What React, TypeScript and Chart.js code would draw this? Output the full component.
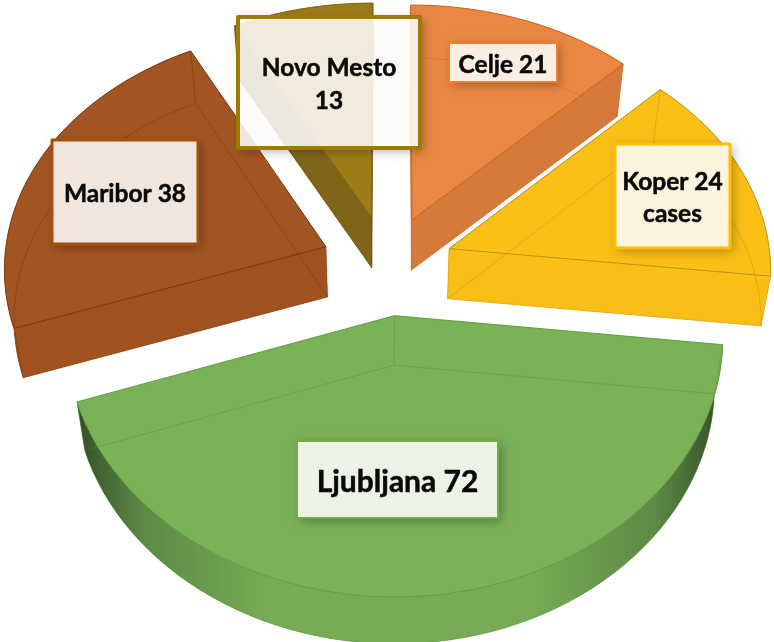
import React, { useEffect, useRef } from "react";
import { Chart, registerables } from "chart.js";

Chart.register(...registerables);

const categories = ["Ljubljana", "Maribor", "Novo Mesto", "Celje", "Koper"];
const cases = [72, 38, 13, 21, 24];
const labelLines = [["Ljubljana 72"], ["Maribor 38"], ["Novo Mesto", "13"], ["Celje 21"], ["Koper 24", "cases"]];

const topColors = ["#7ab258", "#a25522", "#9d7b17", "#ea8842", "#fac016"];
const wallColors = ["#77ac55", "#a05321", "#7e6518", "#d67a3b", "#f9bf17"];
const rimDark = ["#344e28", "#3f2008", "#7e6518", "#d67a3b", "#e8b014"];
const rimMid = ["#5d8a45", "#7a3f18", "#7e6518", "#d67a3b", "#f9bf17"];
const rimShade = [0.3, 0.05, 0.01, 0.01, 0.01];
const edgeColors = ["#659f45", "#7a3c10", "#7e6518", "#c9651f", "#b8901a"];
const faintColors = ["rgba(84,140,56,.4)", "rgba(120,58,14,.5)", "rgba(100,78,16,.5)", "rgba(200,100,40,.4)", "rgba(190,145,20,.45)"];
const boxBorders = ["#70ad47", "#a5500f", "#9c7b00", "#ed7d31", "#ffc000"];
const boxes = [
  { x: 297, y: 441, w: 201, h: 77, font: 30, bw: 2, lh: 0 },
  { x: 52, y: 140, w: 146, h: 104, font: 24.5, bw: 3, lh: 0 },
  { x: 238, y: 17, w: 182, h: 131, font: 24.5, bw: 4, lh: 33 },
  { x: 449, y: 43, w: 108, h: 39, font: 24.5, bw: 2, lh: 0 },
  { x: 615, y: 144, w: 115, h: 104, font: 24.5, bw: 3, lh: 32 },
];
const paintOrder = [2, 3, 4, 1, 0];

const view = { cx: 387, cy: 265, b: 0.757, px: 0.00025, py: 0.0003, depth: 50, shrink: 0.975 };

function project(u: number, v: number, h: number) {
  const X = u / (1 - view.px * v);
  const Y = (view.b * v) / (1 - view.py * v);
  if (!h) return { x: view.cx + X, y: view.cy + Y };
  return { x: view.cx + X * view.shrink, y: view.cy + Y + view.depth * (1 - 0.00016 * v) };
}

function trace(ctx: CanvasRenderingContext2D, pts: { x: number; y: number }[], close = false) {
  ctx.beginPath();
  pts.forEach((p, i) => (i ? ctx.lineTo(p.x, p.y) : ctx.moveTo(p.x, p.y)));
  if (close) ctx.closePath();
}

function paintSlice(ctx: CanvasRenderingContext2D, el: any, i: number) {
  const o = el.options.offset || 0;
  const mid = (el.startAngle + el.endAngle) / 2;
  const ax = Math.cos(mid) * o;
  const ay = Math.sin(mid) * o;
  const n = 64;
  const arc = (h: number) => {
    const out = [];
    for (let k = 0; k <= n; k++) {
      const t = el.startAngle + ((el.endAngle - el.startAngle) * k) / n;
      out.push(project(ax + Math.cos(t) * el.outerRadius, ay + Math.sin(t) * el.outerRadius, h));
    }
    return out;
  };
  const topArc = arc(0);
  const botArc = arc(1);
  const a0 = project(ax, ay, 0);
  const a1 = project(ax, ay, 1);
  const face = el.options.backgroundColor;

  ctx.lineJoin = "round";
  // bottom face
  ctx.fillStyle = wallColors[i];
  trace(ctx, [a1, ...botArc], true);
  ctx.fill();

  // cut walls
  trace(ctx, [a0, topArc[0], botArc[0], a1], true);
  ctx.fill();
  trace(ctx, [a0, topArc[n], botArc[n], a1], true);
  ctx.fill();

  // rim wall
  const xs = topArc.concat(botArc).map((p) => p.x);
  const minX = Math.min(...xs);
  const maxX = Math.max(...xs);
  const g = ctx.createLinearGradient(minX, 0, maxX, 0);
  const s = rimShade[i];
  g.addColorStop(0, rimDark[i]);
  g.addColorStop(s * 0.35, rimMid[i]);
  g.addColorStop(s, wallColors[i]);
  g.addColorStop(1 - s, wallColors[i]);
  g.addColorStop(1 - s * 0.35, rimMid[i]);
  g.addColorStop(1, rimDark[i]);
  ctx.fillStyle = g;
  trace(ctx, [...topArc, ...botArc.slice().reverse()], true);
  ctx.fill();

  // top face
  ctx.fillStyle = face;
  trace(ctx, [a0, ...topArc], true);
  ctx.fill();

  // see-through edges of the lower face
  ctx.lineWidth = 1;
  ctx.strokeStyle = faintColors[i];
  trace(ctx, [a1, ...botArc], true);
  ctx.stroke();
  trace(ctx, [a0, a1]);
  ctx.stroke();
  trace(ctx, [topArc[0], botArc[0]]);
  ctx.stroke();
  trace(ctx, [topArc[n], botArc[n]]);
  ctx.stroke();

  // upper face edges
  ctx.strokeStyle = edgeColors[i];
  trace(ctx, [a0, ...topArc], true);
  ctx.stroke();
}

function paintLabel(ctx: CanvasRenderingContext2D, i: number) {
  const b = boxes[i];
  ctx.save();
  ctx.beginPath();
  ctx.rect(0, 0, 774, 642);
  ctx.rect(b.x, b.y, b.w, b.h);
  ctx.clip("evenodd");
  ctx.shadowColor = "rgba(0,0,0,.32)";
  ctx.shadowBlur = 10;
  ctx.shadowOffsetX = 3;
  ctx.shadowOffsetY = 3;
  ctx.fillStyle = "#000";
  ctx.fillRect(b.x, b.y, b.w, b.h);
  ctx.restore();

  ctx.fillStyle = "rgba(252,251,248,.88)";
  ctx.fillRect(b.x, b.y, b.w, b.h);
  ctx.strokeStyle = boxBorders[i];
  ctx.lineWidth = b.bw;
  ctx.strokeRect(b.x, b.y, b.w, b.h);

  ctx.fillStyle = "#0a0a0a";
  ctx.strokeStyle = "#0a0a0a";
  ctx.lineWidth = 0.5;
  ctx.font = `bold ${b.font}px Lato`;
  ctx.textAlign = "center";
  ctx.textBaseline = "middle";
  const lines = labelLines[i];
  const cx = b.x + b.w / 2;
  const cy = b.y + b.h / 2 + 2.5;
  lines.forEach((t, k) => {
    const y = cy + (k - (lines.length - 1) / 2) * b.lh;
    ctx.fillText(t, cx, y);
    ctx.strokeText(t, cx, y);
  });
}

const pie3d = {
  id: "pie3d",
  beforeDatasetsDraw() {
    return false;
  },
  afterDraw(chart: any) {
    const ctx = chart.ctx;
    const meta = chart.getDatasetMeta(0);
    ctx.save();
    paintOrder.forEach((i) => paintSlice(ctx, meta.data[i], i));
    paintOrder.forEach((i) => paintLabel(ctx, i));
    ctx.restore();
  },
};

export default function App() {
  const ref = useRef<HTMLCanvasElement | null>(null);
  useEffect(() => {
    const chart = new Chart(ref.current as HTMLCanvasElement, {
      type: "pie",
      data: {
        labels: categories,
        datasets: [{ data: cases, backgroundColor: topColors, borderWidth: 0, offset: 66 }],
      },
      options: {
        animation: false,
        responsive: false,
        rotation: 96.5,
        radius: 322,
        events: [],
        plugins: { legend: { display: false }, tooltip: { enabled: false } },
      },
      plugins: [pie3d],
    } as any);
    return () => chart.destroy();
  }, []);
  return (
    <canvas
      ref={ref}
      width={774}
      height={642}
      style={{ position: "fixed", left: 0, top: 0, display: "block" }}
    />
  );
}
